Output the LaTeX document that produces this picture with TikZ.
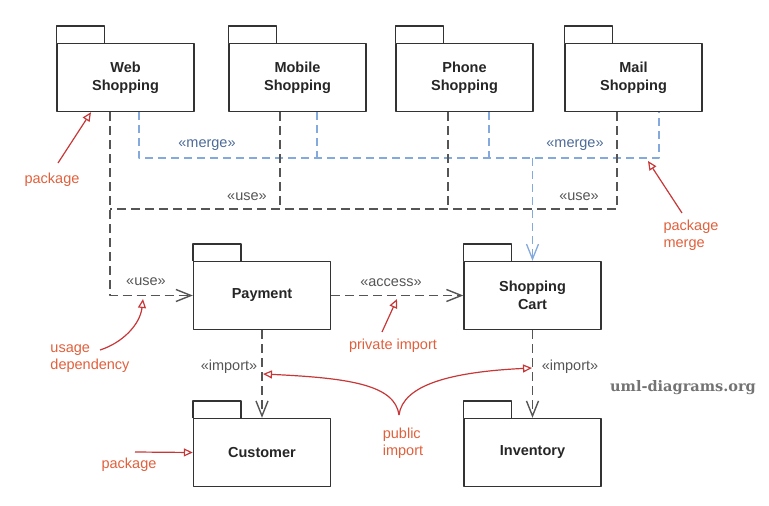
\documentclass[tikz,border=0pt]{standalone}
\usepackage{fontspec}
\setmainfont{Liberation Sans}
\newfontfamily\slabfont{DejaVu Serif}
\usetikzlibrary{arrows.meta,calc}
\definecolor{boxline}{HTML}{333333}
\definecolor{depgray}{HTML}{555555}
\definecolor{mrgblue}{HTML}{84A9DC}
\definecolor{mrgtext}{HTML}{4D6B96}
\definecolor{linered}{HTML}{C83737}
\definecolor{notered}{HTML}{E0603C}

\begin{document}
\begin{tikzpicture}[line join=round,x=1pt,y=-1pt,
    pkg/.style={draw=boxline,line width=1.4pt,minimum width=137pt,minimum height=68pt,
      inner sep=0pt,align=center,text=black!85,font=\fontsize{14.5}{18}\selectfont\bfseries},
    dep/.style={draw=depgray,line width=1.4pt,dash pattern=on 9pt off 5pt},
    mrg/.style={draw=mrgblue,line width=1.3pt,dash pattern=on 8pt off 5pt},
    vtip/.style={-{Straight Barb[length=15pt,width=12pt]}},
    stereo/.style={text=depgray,font=\fontsize{14.5}{17}\selectfont},
    note/.style={text=notered,align=left,font=\fontsize{14.5}{17}\selectfont},
    noteline/.style={draw=linered,line width=1.2pt,-{Triangle[open,length=9pt,width=8pt]}}]
  \useasboundingbox (0,0) rectangle (769,506);
  % packages
  \node [pkg] (web) at (125.5,77.5) {Web\\Shopping};
  \node [pkg] (mobile) at (297.5,77.5) {Mobile\\Shopping};
  \node [pkg] (phone) at (464.5,77.5) {Phone\\Shopping};
  \node [pkg] (mail) at (633.5,77.5) {Mail\\Shopping};
  \node [pkg] (payment) at (262,295.5) {Payment};
  \node [pkg] (cart) at (532.5,295.5) {Shopping\\Cart};
  \node [pkg] (customer) at (262,452.5) {Customer};
  \node [pkg] (inventory) at (532.5,452.5) {Inventory};
  \foreach \p in {web,mobile,phone,mail,payment,cart,customer,inventory}
    \draw [draw=boxline,line width=1.4pt] (\p.north west) -- ++(0,-17) -- ++(48,0) -- ++(0,17);
  % merge
  \coordinate (mergejoin) at (139,158);
  \draw [mrg] ([xshift=13.5pt]web.south) |- ([xshift=25.5pt]mail.south |- mergejoin) -- ([xshift=25.5pt]mail.south);
  \draw [mrg] ([xshift=19.5pt]mobile.south) -- ([xshift=19.5pt]mobile.south |- mergejoin);
  \draw [mrg] ([xshift=24.5pt]phone.south) -- ([xshift=24.5pt]phone.south |- mergejoin);
  \draw [mrg,vtip] (cart.north |- mergejoin) -- (cart.north);
  \node [text=mrgtext,font=\fontsize{14.5}{17}\selectfont] (mergeA) at (207,145) {«merge»};
  \node [text=mrgtext,font=\fontsize{14.5}{17}\selectfont] (mergeB) at (575,145) {«merge»};
  % use
  \coordinate (usejoin) at (110,209);
  \draw [dep,vtip] ([xshift=-15.5pt]web.south) |- (payment.west);
  \draw [dep] ([xshift=-16.5pt]mail.south) |- (usejoin);
  \draw [dep] ([xshift=-17.5pt]mobile.south) -- ([xshift=-17.5pt]mobile.south |- usejoin);
  \draw [dep] ([xshift=-16.5pt]phone.south) -- ([xshift=-16.5pt]phone.south |- usejoin);
  \node [stereo] (useA) at (247,197) {«use»};
  \node [stereo] (useB) at (579,197) {«use»};
  \node [stereo] (useC) at (146,282) {«use»};
  % access, import
  \draw [dep,vtip] (payment.east) -- (cart.west);
  \node [stereo] (access) at (391,283) {«access»};
  \draw [dep,vtip] (payment.south) -- (customer.north);
  \draw [dep,vtip] (cart.south) -- (inventory.north);
  \node [stereo] (importA) at (229,367) {«import»};
  \node [stereo] (importB) at (570,367) {«import»};
  % notes
  \node [note] (pkgnoteA) at (52,180) {package};
  \draw [noteline] (58,163) -- ([xshift=-34.5pt]web.south);
  \node [note] (mergenote) at (691,235) {package\\merge};
  \coordinate (mergetip) at (648,161);
  \draw [noteline] (682,213) -- (mergetip);
  \node [note] (usenote) at (90,358.5) {usage\\dependency};
  \coordinate (usetip) at (143,299);
  \draw [noteline] (100,350) .. controls (122,343) and (140,325) .. (usetip);
  \node [note] (privnote) at (393,346) {private import};
  \coordinate (privtip) at (397,299);
  \draw [noteline] (382,332) -- (privtip);
  \node [note] (pubnote) at (403,443) {public\\import};
  \coordinate (pubtipA) at (263,374);
  \coordinate (pubtipB) at (532,368);
  \draw [noteline] (399,415) .. controls (395,385) and (350,378) .. (pubtipA);
  \draw [noteline] (399,415) .. controls (403,385) and (450,372) .. (pubtipB);
  \node [note] (pkgnoteB) at (129,465) {package};
  \draw [noteline] (135,452) -- (customer.west);
  \node [text=black!55,font=\slabfont\bfseries\fontsize{14.5}{18}\selectfont] (site) at (683,388) {uml-diagrams.org};
\end{tikzpicture}
\end{document}
